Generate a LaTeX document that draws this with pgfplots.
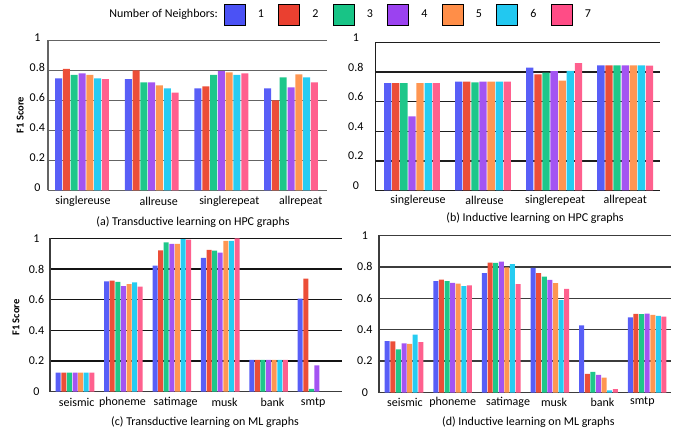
\documentclass[border=0pt]{standalone}
\usepackage{fontspec}
\setmainfont{Carlito}
\usepackage{pgfplots}
\usepackage{pgfplotstable}
\pgfplotsset{compat=1.18}

\definecolor{c1}{RGB}{88,94,247}
\definecolor{c2}{RGB}{236,78,56}
\definecolor{c3}{RGB}{30,199,138}
\definecolor{c4}{RGB}{163,84,242}
\definecolor{c5}{RGB}{255,150,82}
\definecolor{c6}{RGB}{38,204,241}
\definecolor{c7}{RGB}{255,96,142}
\definecolor{l1}{RGB}{75,82,245}
\definecolor{l2}{RGB}{234,64,48}
\definecolor{l3}{RGB}{24,196,134}
\definecolor{l4}{RGB}{155,66,240}
\definecolor{l5}{RGB}{255,142,72}
\definecolor{l6}{RGB}{34,200,240}
\definecolor{l7}{RGB}{255,76,134}
\definecolor{gridA}{RGB}{100,100,100}
\definecolor{gridB}{RGB}{30,30,30}
\definecolor{gridC}{RGB}{20,20,20}
\definecolor{gridD}{RGB}{60,60,60}

% (a) transductive, HPC graphs
\pgfplotstableread{
x n1    n2    n3    n4    n5    n6    n7
0 0.747 0.810 0.770 0.780 0.770 0.747 0.743
1 0.743 0.800 0.720 0.720 0.700 0.680 0.653
2 0.680 0.694 0.770 0.796 0.787 0.770 0.780
3 0.680 0.600 0.754 0.687 0.774 0.754 0.720
}\tabA

% (b) inductive, HPC graphs
\pgfplotstableread{
x n1    n2    n3    n4    n5    n6    n7
0 0.725 0.725 0.725 0.500 0.725 0.725 0.725
1 0.736 0.736 0.730 0.736 0.736 0.736 0.736
2 0.831 0.784 0.797 0.806 0.743 0.808 0.860
3 0.845 0.845 0.845 0.845 0.845 0.845 0.843
}\tabB

% (c) transductive, ML graphs
\pgfplotstableread{
x n1    n2    n3    n4    n5    n6    n7
0 0.124 0.124 0.124 0.124 0.124 0.124 0.124
1 0.720 0.724 0.717 0.689 0.702 0.713 0.685
2 0.822 0.922 0.974 0.965 0.965 0.996 0.993
3 0.874 0.926 0.920 0.907 0.985 0.985 1.000
4 0.207 0.207 0.207 0.207 0.207 0.207 0.207
5 0.607 0.737 0.017 0.170 nan   nan   nan
}\tabC

% (d) inductive, ML graphs
\pgfplotstableread{
x n1    n2    n3    n4    n5    n6    n7
0 0.328 0.326 0.275 0.313 0.309 0.368 0.321
1 0.710 0.719 0.710 0.698 0.693 0.677 0.683
2 0.761 0.827 0.825 0.833 0.797 0.818 0.691
3 0.793 0.761 0.738 0.717 0.696 0.588 0.660
4 0.427 0.118 0.131 0.112 0.095 0.013 0.021
5 0.478 0.501 0.499 0.503 0.495 0.488 0.484
}\tabD

\newcommand{\sevenbars}[1]{%
  \addplot[fill=c1] table[x=x,y=n1]{#1};
  \addplot[fill=c2] table[x=x,y=n2]{#1};
  \addplot[fill=c3] table[x=x,y=n3]{#1};
  \addplot[fill=c4] table[x=x,y=n4]{#1};
  \addplot[fill=c5] table[x=x,y=n5]{#1};
  \addplot[fill=c6] table[x=x,y=n6]{#1};
  \addplot[fill=c7] table[x=x,y=n7]{#1};
}

\pgfplotsset{
  panel/.style={
    scale only axis, anchor=south west,
    ybar, ymin=0, ymax=1,
    axis x line*=bottom, axis y line*=left,
    ytick={0,0.2,0.4,0.6,0.8,1},
    yticklabels={0,0.2,0.4,0.6,0.8,1},
    ymajorgrids,
    major tick length=0pt,
    tick label style={font=\fontsize{12bp}{14bp}\selectfont, text=black},
    yticklabel style={text width=17bp, align=center, inner sep=0pt},
    every axis plot/.append style={draw=none},
  },
}

\begin{document}
\begin{tikzpicture}
\path[use as bounding box] (0,0) rectangle (688bp,430bp);

% legend
\node[anchor=east, inner sep=0pt, font=\fontsize{12bp}{14bp}\selectfont]
  at (218bp,415.5bp) {Number of Neighbors:};
\begin{axis}[hide axis, scale only axis, width=1bp, height=1bp,
  at={(224bp,415.5bp)}, anchor=south west,
  xmin=0, xmax=1, ymin=0, ymax=1,
  legend image code/.code={\fill[#1] (0bp,-10.5bp) rectangle (21bp,10.5bp);},
  legend style={at={(axis description cs:0,0)}, anchor=west,
    draw=none, fill=none, inner sep=0pt, outer sep=0pt,
    legend columns=-1, font=\fontsize{12bp}{14bp}\selectfont,
    nodes={inner sep=0pt},
    /tikz/every odd column/.append style={column sep=12.5bp},
    /tikz/every even column/.append style={column sep=14.5bp}}]
\addlegendimage{fill=l1}\addlegendentry{1}
\addlegendimage{fill=l2}\addlegendentry{2}
\addlegendimage{fill=l3}\addlegendentry{3}
\addlegendimage{fill=l4}\addlegendentry{4}
\addlegendimage{fill=l5}\addlegendentry{5}
\addlegendimage{fill=l6}\addlegendentry{6}
\addlegendimage{fill=l7}\addlegendentry{7}
\end{axis}

% (a)
\begin{axis}[panel, at={(48bp,239.5bp)}, width=279bp, height=150bp,
  xmin=-0.488, xmax=3.516, bar width=7bp, ybar=0.8bp,
  xtick={0.014,1.1,2.114,3.14},
  xticklabels={singlereuse,allreuse,singlerepeat,allrepeat},
  xticklabel style={anchor=center, yshift=-10.7bp},
  yticklabel style={xshift=-2bp, yshift=3bp},
  grid style={draw=gridA, line width=1.3bp},
  axis line style={-, draw=gridA, line width=1.3bp}]
\sevenbars{\tabA}
\end{axis}

% (b)
\begin{axis}[panel, at={(375bp,239.5bp)}, width=285bp, height=148bp,
  xmin=-0.52, xmax=3.49, bar width=7.3bp, ybar=0.8bp,
  xtick={0.085,1.02,2.014,3},
  xticklabels={singlereuse,allreuse,singlerepeat,allrepeat},
  xticklabel style={anchor=center, yshift=-10bp},
  yticklabel style={xshift=-10.5bp, yshift=5bp},
  grid style={draw=gridB, line width=1.3bp},
  axis line style={-, draw=gridB, line width=1bp}]
\sevenbars{\tabB}
\end{axis}

% (c)
\begin{axis}[panel, at={(50bp,38.5bp)}, width=292bp, height=153bp,
  xmin=-0.517, xmax=5.517, bar width=5bp, ybar=0.6bp,
  xtick={0.035,0.98,2.08,3.09,4.08,4.92},
  xticklabels={seismic,phoneme,satimage,musk,bank,smtp},
  xticklabel style={anchor=center, yshift=-11bp},
  yticklabel style={xshift=-4.8bp},
  grid style={draw=gridC, line width=1.3bp},
  axis line style={-, draw=gridD, line width=1.3bp}]
\sevenbars{\tabC}
\end{axis}

% (d)
\begin{axis}[panel, at={(379bp,37.5bp)}, width=292bp, height=157bp,
  xmin=-0.514, xmax=5.49, bar width=5bp, ybar=0.6bp,
  xtick={0.02,1,2.14,3.085,4.08,4.9},
  xticklabels={seismic,phoneme,satimage,musk,bank,smtp},
  xticklabel style={anchor=center, yshift=-9.5bp},
  yticklabel style={xshift=-5.5bp},
  grid style={draw=gridD, line width=1.3bp},
  axis line style={-, draw=gridD, line width=1.3bp}]
\sevenbars{\tabD}
\end{axis}

% axis titles and captions
\node[rotate=90, font=\fontsize{10.5bp}{12bp}\selectfont\bfseries]
  at (20.3bp,315bp) {F1 Score};
\node[rotate=90, font=\fontsize{10.5bp}{12bp}\selectfont\bfseries]
  at (16bp,112.5bp) {F1 Score};
\begin{scope}[every node/.style={font=\fontsize{12bp}{14bp}\selectfont, inner sep=0pt}]
\node at (193bp,208.3bp) {(a) Transductive learning on HPC graphs};
\node at (535bp,211.7bp) {(b) Inductive learning on HPC graphs};
\node at (205bp,8.3bp) {(c) Transductive learning on ML graphs};
\node at (528.3bp,8.3bp) {(d) Inductive learning on ML graphs};
\end{scope}
\end{tikzpicture}
\end{document}
